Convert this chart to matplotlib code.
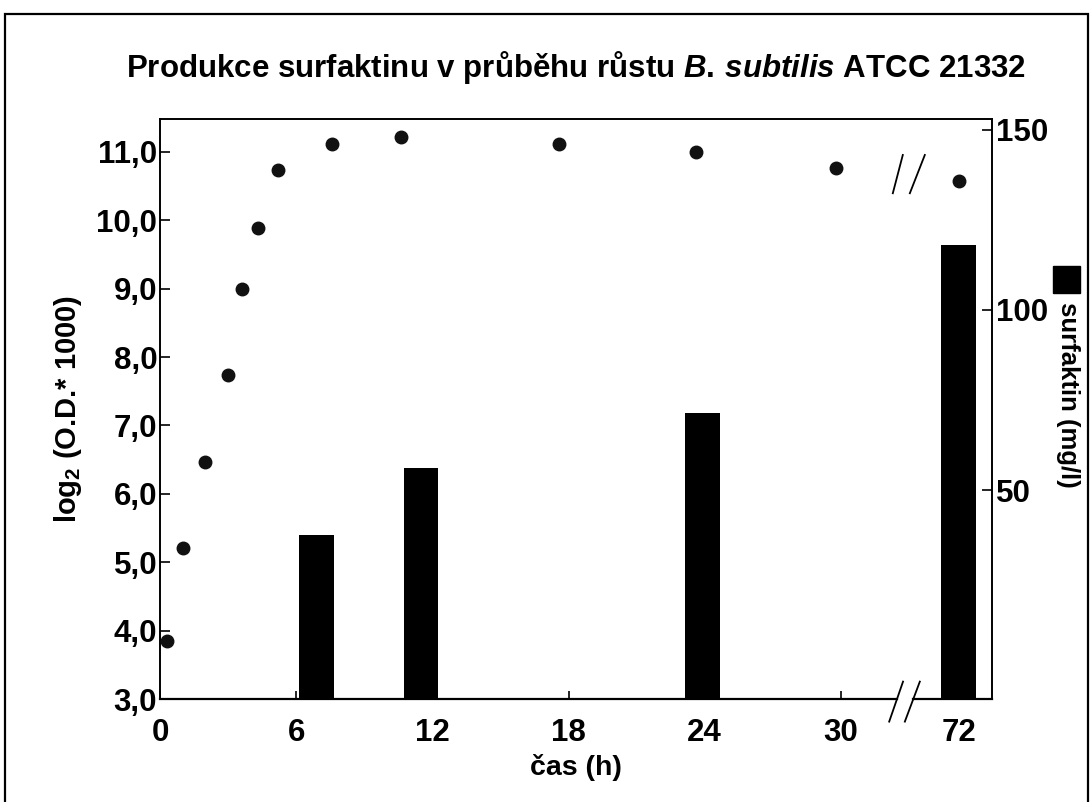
import numpy as np
import matplotlib
matplotlib.use("Agg")
import matplotlib.pyplot as plt
import matplotlib.transforms as mtransforms
from matplotlib.patches import Rectangle

plt.rcParams['font.family'] = ['Liberation Sans', 'DejaVu Sans']
plt.rcParams['font.weight'] = 'bold'
plt.rcParams['mathtext.fontset'] = 'custom'
plt.rcParams['mathtext.rm'] = 'Liberation Sans:bold'
plt.rcParams['mathtext.it'] = 'Liberation Sans:bold:italic'
plt.rcParams['mathtext.bf'] = 'Liberation Sans:bold'

# growth curve: log2(O.D. * 1000) over time
time_h = [0.3, 1.0, 2.0, 3.0, 3.6, 4.3, 5.2, 7.6, 10.6, 17.6, 23.6, 29.8, 72.0]
log2_od = [3.85, 5.21, 6.47, 7.74, 8.99, 9.89, 10.73, 11.11, 11.22, 11.12, 11.00, 10.76, 10.57]

# surfactin yield (mg/l)
bar_time_h = [6.9, 11.5, 23.9, 72.0]
surfaktin_mg_l = [37.5, 56.0, 71.5, 118.0]

x_ticks = [0, 6, 12, 18, 24, 30, 72]
y_ticks = [3, 4, 5, 6, 7, 8, 9, 10, 11]
y_ticklabels = ['3,0', '4,0', '5,0', '6,0', '7,0', '8,0', '9,0', '10,0', '11,0']
y2_ticks = [50, 100, 150]

BREAK_AT = 30
LATE_SHIFT = 36.8      # everything after the break is pulled left
X_MAX = 36.66
Y_LIM = (3.0, 11.48)
Y2_LIM = (-8.0, 153.0)
BAR_WIDTH = 1.54


def axis_pos(t):
    t = np.asarray(t, dtype=float)
    return np.where(t > BREAK_AT, t - LATE_SHIFT, t)


fig = plt.figure(figsize=(10.9, 8.02), dpi=100)
ax = fig.add_axes([160 / 1090, 1 - 699 / 802, 832 / 1090, 580 / 802])
ax2 = ax.twinx()

# bars on the right axis, standing on the bottom of the frame
ax2.bar(axis_pos(bar_time_h), np.array(surfaktin_mg_l) - Y2_LIM[0],
        bottom=Y2_LIM[0], width=BAR_WIDTH, color='black', zorder=2)

# growth points on the left axis
ax.plot(axis_pos(time_h), log2_od, linestyle='none', marker='o',
        markersize=9, color='#111111', zorder=3)
ax.set_zorder(ax2.get_zorder() + 1)
ax.patch.set_visible(False)

ax.set_xlim(0, X_MAX)
ax.set_ylim(*Y_LIM)
ax2.set_ylim(*Y2_LIM)

ax.set_xticks(axis_pos(x_ticks))
ax.set_xticklabels([str(t) for t in x_ticks])
ax.set_yticks(y_ticks)
ax.set_yticklabels(y_ticklabels)
ax2.set_yticks(y2_ticks)
ax2.set_yticklabels([str(v) for v in y2_ticks])

ax.tick_params(axis='x', direction='in', length=6, width=1.2, pad=14, labelsize=22.5)
ax.tick_params(axis='y', direction='in', length=7, width=1.2, pad=2, labelsize=22.5)
ax2.tick_params(axis='y', direction='in', length=7, width=1.2, pad=3, labelsize=22.5)

for a in (ax, ax2):
    for side in a.spines.values():
        side.set_linewidth(1.2)
    a.spines['bottom'].set_visible(False)

# bottom axis line with a gap at the break
trans = mtransforms.blended_transform_factory(ax.transData, ax.transAxes)
ax.plot([0, 32.47], [0, 0], color='black', lw=1.6, transform=trans, clip_on=False)
ax.plot([33.2, X_MAX], [0, 0], color='black', lw=1.6, transform=trans, clip_on=False)

# break marks: one pair across the x axis, one pair over the late point
for x0, x1 in [(32.13, 32.74), (32.82, 33.48)]:
    ax.plot([x0, x1], [-0.039, 0.030], color='black', lw=1.3, transform=trans, clip_on=False)
for x0, x1 in [(32.29, 32.73), (33.04, 33.70)]:
    ax.plot([x0, x1], [0.872, 0.938], color='black', lw=1.3, transform=trans, clip_on=False)

ax.set_xlabel('čas (h)', fontsize=20.5, fontweight='bold', labelpad=4)
ax.set_ylabel(r'log$_2$ (O.D.* 1000)', fontsize=21, fontweight='bold', labelpad=9)

fig.text(576 / 1090, 1 - 68 / 802,
         r'Produkce surfaktinu v průběhu růstu $\mathit{B.\,subtilis}$ ATCC 21332',
         ha='center', va='center', fontsize=22.5, fontweight='bold')

# right-hand label with its filled square key
fig.text(1068 / 1090, 1 - 395 / 802, 'surfaktin (mg/l)', rotation=270,
         ha='center', va='center', fontsize=18.5, fontweight='bold')
fig.add_artist(Rectangle((1053 / 1090, 1 - 293 / 802), 27 / 1090, 27 / 802,
                         transform=fig.transFigure, color='black'))

# outer frame of the figure
fig.add_artist(Rectangle((5 / 1090, -0.05), 1083 / 1090, 1.05 - 14 / 802,
                         transform=fig.transFigure, fill=False,
                         edgecolor='black', lw=1.6))

fig.savefig('out.png', dpi=100)
